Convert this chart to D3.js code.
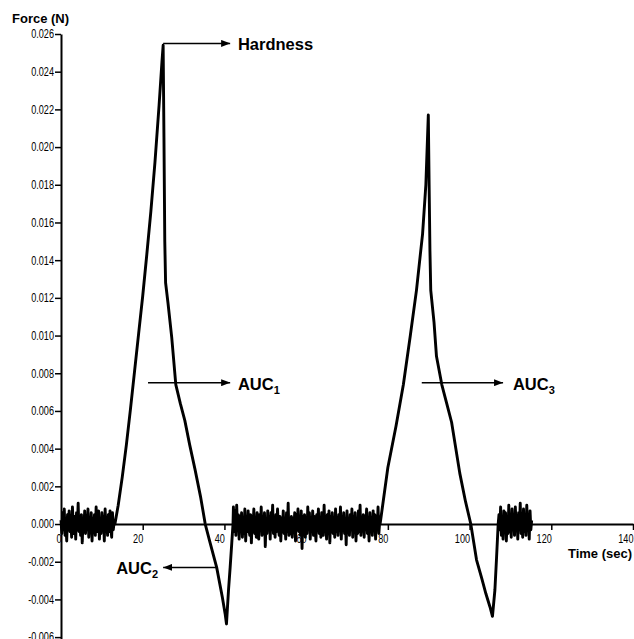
<!DOCTYPE html>
<html>
<head>
<meta charset="utf-8">
<title>Force vs time</title>
<script src="https://d3js.org/d3.v7.min.js"></script>
<style>
    body { margin: 0; background: #fff; }
    svg { display: block; }
    .axis .tick text {
        font-family: "Liberation Sans", Arial, sans-serif;
        font-size: 12px;
        fill: #000;
    }
    .axis path, .axis line { stroke: #000; }
    .title {
        font-family: "Liberation Sans", Arial, sans-serif;
        font-weight: bold;
        font-size: 13px;
    }
    .note {
        font-family: "Liberation Sans", Arial, sans-serif;
        font-weight: bold;
        font-size: 16.5px;
    }
</style>
</head>
<body>
<script>
// values: time in s, force in N
var xTicks = [0, 20, 40, 60, 80, 100, 120, 140];
var yTicks = [-0.006, -0.004, -0.002, 0, 0.002, 0.004, 0.006, 0.008, 0.010, 0.012,
              0.014, 0.016, 0.018, 0.020, 0.022, 0.024, 0.026];

// baseline noise, units of 0.0001 N, one reading every 0.2 s
var noiseStep = 0.2;
var noiseAStart = 0;
var noiseA = [2,-5,6,-3,8,-6,1,-9,5,-2, 7,-4,3,-7,9,-1,-5,4,-8,6,
              -3,11,-4,2,-6,5,-10,3,-2,7, -5,4,-3,8,-7,2,-4,6,-9,3,
              -1,5,-6,9,-2,-4,7,-8,3,-5, 6,-1,4,-9,8,-3,2,-6,5,-4,
              7,-2,-7,6,-3,1];
var noiseBStart = 42.2;
var noiseB = [9,-4,7,-6,10,-3,5,-8,4,-2, 6,-7,3,-5,8,-9,2,-4,7,-3,
              -6,5,-10,4,-2,8,-5,3,-7,6, -1,-8,5,-3,9,-6,2,-4,6,-12,
              3,-5,7,-2,4,-8,6,-3,10,-5, 2,-7,5,-4,8,-2,-6,4,-9,3,
              -3,7,-5,2,-8,6,-4,11,-6,1, -5,4,-7,3,-2,6,-9,5,-3,8,
              -4,2,-6,7,-13,4,-2,5,-7,3, -5,9,-3,6,-8,2,-4,7,-6,4,
              -2,-9,5,-3,8,-5,3,-7,6,-1, -6,10,-4,2,-8,5,-3,7,-10,4,
              -2,6,-5,3,-7,8,-4,2,-6,5, -3,9,-8,4,-2,6,-5,3,-11,7,
              -4,2,-6,5,-3,8,-7,4,-2,6, -9,3,-5,7,-4,10,-6,2,-3,5,
              -7,4,-2,8,-5,3,-9,6,-4,2, -6,7,-3,5,-8,4,-2,9,-5,1];
var noiseCStart = 107.2;
var noiseC = [5,-3,9,-6,4,-8,7,-2,6,-9, 3,-5,10,-4,2,-7,8,-3,5,-6,
              9,-2,4,-8,6,-3,11,-5,2,-7, 8,-4,3,-6,10,-2,5,-8,7,-3, 2];

// first compression cycle [time, force]
var cycle1 = [[13.2,0],[14.0,0.0010],[15.0,0.0025],[16.0,0.0042],[17.0,0.0061],[18.0,0.0081],
              [19.0,0.0101],[20.0,0.0121],[21.0,0.0143],[22.0,0.0166],[23.0,0.0192],[24.0,0.0222],
              [24.7,0.0245],[25.0,0.0254],[25.2,0.0205],[25.4,0.0150],[25.6,0.0128],[26.2,0.0117],
              [27.1,0.0099],[28.1,0.0074],[29.2,0.0064],[30.3,0.0055],[31.5,0.0042],[32.8,0.0029],
              [34.2,0.0014],[35.3,0],[36.5,-0.0010],[38.1,-0.0023],[39.5,-0.0039],[40.2,-0.0048],
              [40.5,-0.0053],[41.0,-0.0035],[41.4,-0.0023],[41.8,-0.0010],[42.1,0]];
// second compression cycle
var cycle2 = [[78.1,0],[80.0,0.0030],[82.0,0.0052],[83.8,0.0074],[85.5,0.0100],[87.0,0.0124],
              [88.5,0.0154],[89.3,0.0180],[89.9,0.0217],[90.1,0.0180],[90.3,0.0145],[90.5,0.0124],
              [91.3,0.0107],[91.9,0.0089],[93.2,0.0074],[94.4,0.0064],[95.6,0.0054],[97.6,0.0027],
              [99.0,0.0012],[100.3,0],[101.7,-0.0019],[103.0,-0.0029],[104.0,-0.0037],[105.0,-0.0044],
              [105.6,-0.0049],[106.2,-0.0035],[106.6,-0.0018],[107.0,0]];

// arrows: from (t0,f) to (t1,f), label starts at tx
var notes = [
    {label: "Hardness", sub: "",  t0: 25.0, t1: 41.4, f: 0.0255,  tx: 43.3},
    {label: "AUC",      sub: "1", t0: 21.3, t1: 41.4, f: 0.0075,  tx: 43.3},
    {label: "AUC",      sub: "3", t0: 88.3, t1: 108.2, f: 0.0075, tx: 110.6},
    {label: "AUC",      sub: "2", t0: 38.2, t1: 25.0, f: -0.0023, tx: 13.5}
];

var width = 634, height = 639;

var x = d3.scaleLinear().domain([0, 140]).range([61, 633]);
var y = d3.scaleLinear().domain([-0.0061, 0.026]).range([639, 34]);

var svg = d3.select("body").append("svg")
    .attr("width", width)
    .attr("height", height);

function noisePoints(start, vals) {
    return vals.map(function(v, i) {
        return {t: start + i * noiseStep, f: v * 0.0001};
    });
}
function cyclePoints(arr) {
    return arr.map(function(d) { return {t: d[0], f: d[1]}; });
}

var series = [].concat(
    noisePoints(noiseAStart, noiseA),
    cyclePoints(cycle1),
    noisePoints(noiseBStart, noiseB),
    cyclePoints(cycle2),
    noisePoints(noiseCStart, noiseC)
);

// squeeze tick labels to look like the narrow font of the original
function narrow(sel) {
    sel.each(function() {
        var w = this.getComputedTextLength();
        d3.select(this)
            .attr("textLength", w * 0.76)
            .attr("lengthAdjust", "spacingAndGlyphs");
    });
}

// axes
var yAxis = d3.axisLeft(y)
    .tickValues(yTicks)
    .tickSize(6)
    .tickSizeOuter(0)
    .tickPadding(1)
    .tickFormat(function(d) { return d3.format(".3f")(d).replace("\u2212", "-"); });

var gy = svg.append("g")
    .attr("class", "axis")
    .attr("transform", "translate(" + x(0) + ",0)")
    .call(yAxis);
gy.select(".domain").attr("stroke-width", 2);
gy.selectAll(".tick line").attr("stroke-width", 1.5);
gy.selectAll(".tick text").call(narrow);

var xAxis = d3.axisBottom(x)
    .tickValues(xTicks)
    .tickSize(6)
    .tickSizeOuter(0)
    .tickFormat(d3.format("d"));

var gx = svg.append("g")
    .attr("class", "axis")
    .attr("transform", "translate(0," + y(0) + ")")
    .call(xAxis);
gx.select(".domain").attr("stroke-width", 2);
gx.selectAll(".tick line").attr("stroke-width", 1.5);
gx.selectAll(".tick text")
    .attr("text-anchor", "end")
    .attr("x", 0)
    .attr("y", 10)
    .call(narrow);

// axis titles
svg.append("text")
    .attr("class", "title")
    .attr("x", 12)
    .attr("y", 23)
    .text("Force (N)");

svg.append("text")
    .attr("class", "title")
    .attr("x", 632)
    .attr("y", 558)
    .attr("text-anchor", "end")
    .text("Time (sec)");

// force curve
var line = d3.line()
    .x(function(d) { return x(d.t); })
    .y(function(d) { return y(d.f); });

svg.append("path")
    .datum(series)
    .attr("fill", "none")
    .attr("stroke", "#000")
    .attr("stroke-width", 2.9)
    .attr("stroke-linejoin", "round")
    .attr("d", line);

// arrow annotations
svg.append("defs").append("marker")
    .attr("id", "arrow")
    .attr("markerUnits", "userSpaceOnUse")
    .attr("markerWidth", 9)
    .attr("markerHeight", 7)
    .attr("refX", 9)
    .attr("refY", 3.5)
    .attr("orient", "auto")
    .append("path")
    .attr("d", "M0,0L9,3.5L0,7Z")
    .attr("fill", "#000");

svg.selectAll(".arrow")
    .data(notes)
    .enter().append("line")
    .attr("class", "arrow")
    .attr("x1", function(d) { return x(d.t0); })
    .attr("x2", function(d) { return x(d.t1); })
    .attr("y1", function(d) { return y(d.f); })
    .attr("y2", function(d) { return y(d.f); })
    .attr("stroke", "#000")
    .attr("stroke-width", 1.5)
    .attr("marker-end", "url(#arrow)");

var labels = svg.selectAll(".note")
    .data(notes)
    .enter().append("text")
    .attr("class", "note")
    .attr("x", function(d) { return x(d.tx); })
    .attr("y", function(d) { return y(d.f) + 7; });

labels.append("tspan").text(function(d) { return d.label; });
labels.append("tspan")
    .attr("dy", 4)
    .attr("font-size", "11px")
    .text(function(d) { return d.sub; });
</script>
</body>
</html>
